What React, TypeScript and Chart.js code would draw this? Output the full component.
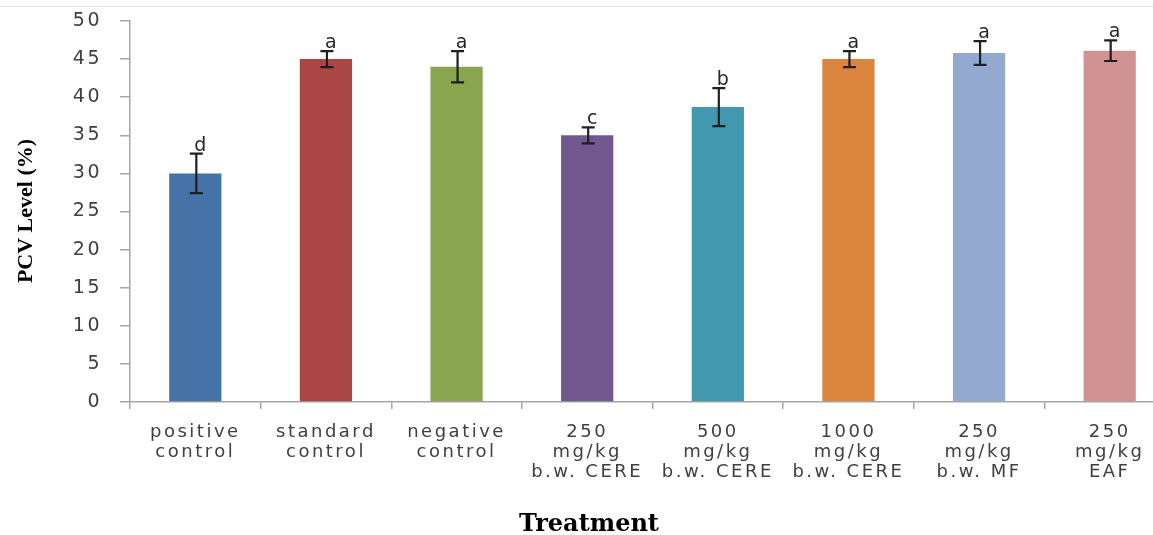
import { useEffect, useRef } from "react";
import { Chart, registerables } from "chart.js";

Chart.register(...registerables);

const categories: string[][] = [
  ["positive", "control"],
  ["standard", "control"],
  ["negative", "control"],
  ["250", "mg/kg", "b.w. CERE"],
  ["500", "mg/kg", "b.w. CERE"],
  ["1000", "mg/kg", "b.w. CERE"],
  ["250", "mg/kg", "b.w. MF"],
  ["250", "mg/kg", "EAF"],
];
const pcvMeans = [30.0, 45.0, 44.0, 35.0, 38.7, 45.0, 45.8, 46.1];
const pcvErrors = [2.6, 1.05, 2.05, 1.05, 2.5, 1.05, 1.55, 1.35];
const significance = ["d", "a", "a", "c", "b", "a", "a", "a"];
const barColors = [
  "#4572A7",
  "#AA4643",
  "#89A54E",
  "#71588F",
  "#4198AF",
  "#DB843D",
  "#93A9CF",
  "#D19392",
];
const yTitle = "PCV Level (%)";
const xTitle = "Treatment";

const AXIS_GRAY = "#A6A6A6";

const spacingPlugin = {
  id: "spacing",
  beforeUpdate(chart: any) {
    chart.ctx.letterSpacing = "2.5px";
  },
  beforeDraw(chart: any) {
    chart.ctx.letterSpacing = "2.5px";
  },
};

const errorPlugin = {
  id: "errorBars",
  afterDatasetsDraw(chart: any) {
    const ctx = chart.ctx;
    const meta = chart.getDatasetMeta(0);
    const y = chart.scales.y;
    ctx.save();
    ctx.strokeStyle = "#1f1f1f";
    ctx.lineWidth = 2.2;
    meta.data.forEach((bar: any, i: number) => {
      const x = bar.x + 1;
      const top = y.getPixelForValue(pcvMeans[i] + pcvErrors[i]);
      const bot = y.getPixelForValue(pcvMeans[i] - pcvErrors[i]);
      ctx.beginPath();
      ctx.moveTo(x, top);
      ctx.lineTo(x, bot);
      ctx.moveTo(x - 6.5, top);
      ctx.lineTo(x + 6.5, top);
      ctx.moveTo(x - 6.5, bot);
      ctx.lineTo(x + 6.5, bot);
      ctx.stroke();
      ctx.fillStyle = "#262626";
      ctx.font = "19px 'DejaVu Sans'";
      ctx.letterSpacing = "0px";
      ctx.textAlign = "center";
      ctx.textBaseline = "alphabetic";
      ctx.fillText(significance[i], x + 4, top - 3);
    });
    ctx.restore();
  },
  afterDraw(chart: any) {
    const ctx = chart.ctx;
    ctx.save();
    ctx.letterSpacing = "0px";
    ctx.font = "bold 24px 'DejaVu Serif'";
    ctx.fillStyle = "#000";
    ctx.textAlign = "center";
    ctx.textBaseline = "alphabetic";
    ctx.fillText(xTitle, 589, 531);
    ctx.translate(32, 211);
    ctx.rotate(-Math.PI / 2);
    ctx.font = "bold 22px 'Liberation Serif'";
    ctx.fillText(yTitle, 0, 0);
    ctx.restore();
  },
};

export default function App() {
  const ref = useRef<HTMLCanvasElement | null>(null);

  useEffect(() => {
    if (!ref.current) return;
    const chart = new Chart(ref.current, {
      type: "bar",
      data: {
        labels: categories,
        datasets: [
          {
            data: pcvMeans,
            backgroundColor: barColors,
            borderWidth: 0,
            barPercentage: 0.4,
            categoryPercentage: 1,
          },
        ],
      },
      options: {
        responsive: true,
        maintainAspectRatio: false,
        animation: false,
        layout: { padding: { top: 21, right: 5, bottom: 0, left: 0 } },
        plugins: {
          legend: { display: false },
          tooltip: { enabled: false },
        },
        scales: {
          x: {
            offset: true,
            grid: {
              display: true,
              drawOnChartArea: false,
              drawTicks: true,
              tickLength: 7,
              offset: true,
              color: AXIS_GRAY,
              lineWidth: 1.5,
            },
            border: { display: true, color: AXIS_GRAY, width: 1.5 },
            ticks: {
              color: "#404040",
              font: { family: "'DejaVu Sans'", size: 18, lineHeight: 1.11 },
              padding: 13,
              maxRotation: 0,
              autoSkip: false,
            },
            afterFit: (s: any) => {
              s.height = 133;
              s.paddingLeft = 0;
              s.paddingRight = 0;
            },
          },
          y: {
            min: 0,
            max: 50,
            ticks: {
              stepSize: 5,
              color: "#404040",
              font: { family: "'DejaVu Sans'", size: 19 },
              padding: 18,
            },
            grid: {
              drawOnChartArea: false,
              drawTicks: true,
              tickLength: 10,
              color: AXIS_GRAY,
              lineWidth: 1.5,
            },
            border: { display: true, color: AXIS_GRAY, width: 1.5 },
            title: { display: false, text: yTitle },
            afterFit: (s: any) => {
              s.width = 130;
              s.paddingTop = 0;
              s.paddingBottom = 0;
            },
          },
        },
      },
      plugins: [spacingPlugin, errorPlugin],
    } as any);
    return () => chart.destroy();
  }, []);

  return (
    <div
      style={{
        position: "absolute",
        left: 0,
        top: 0,
        width: 1153,
        height: 535,
        overflow: "hidden",
        background: "#fff",
      }}
    >
      <div
        style={{
          position: "absolute",
          left: 0,
          top: 6,
          width: 1153,
          height: 0,
          borderTop: "1px solid #e4e4e4",
        }}
      />
      <div style={{ position: "relative", width: 1180, height: 535 }}>
        <canvas ref={ref} />
      </div>
    </div>
  );
}
